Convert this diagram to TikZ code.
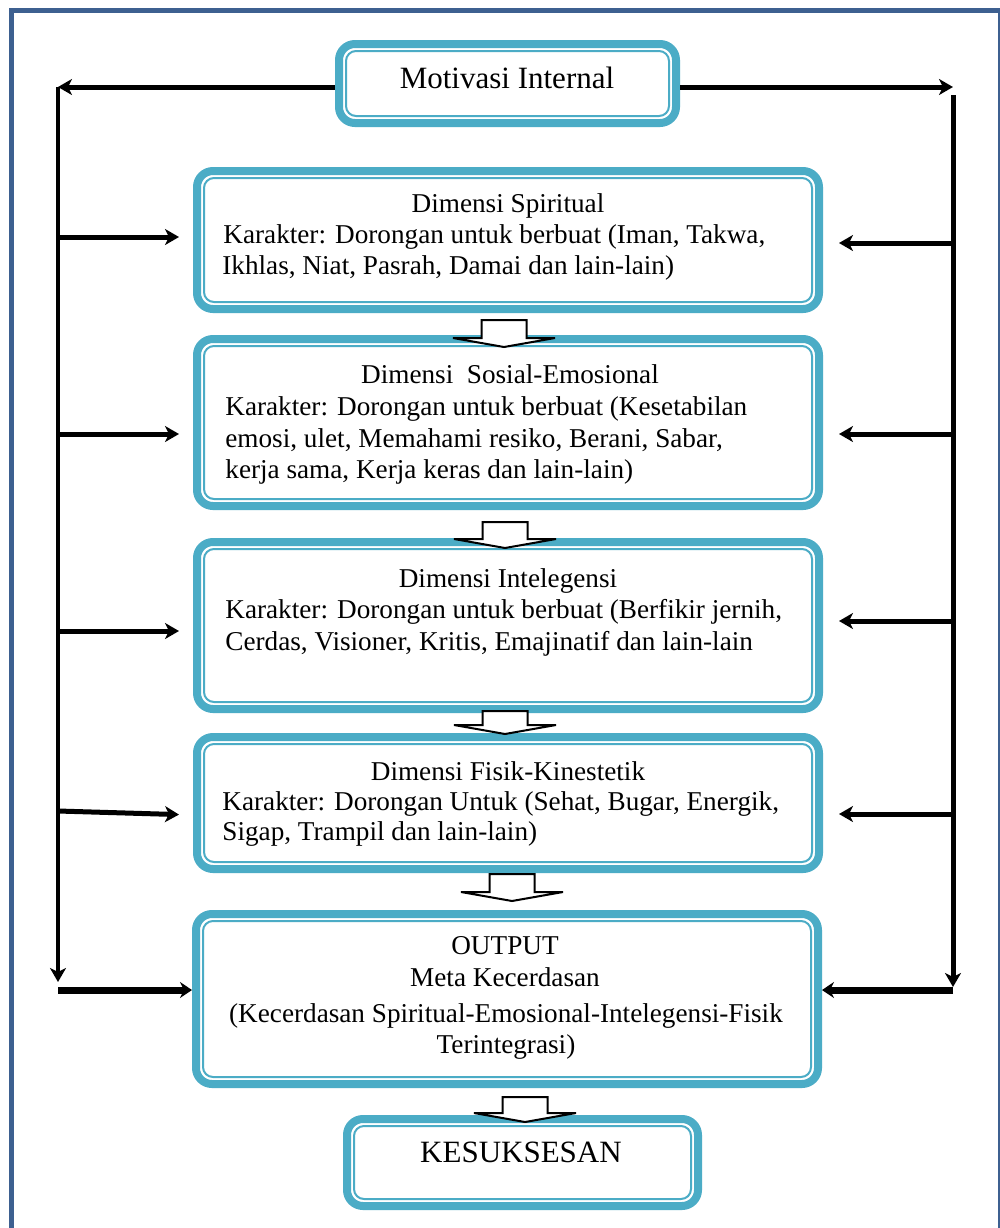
\documentclass[tikz,border=0pt]{standalone}
\usepackage{fontspec}
\setmainfont{Liberation Serif}
\usetikzlibrary{arrows.meta,calc}
\definecolor{tealb}{HTML}{4BACC6}
\definecolor{frameb}{HTML}{3D6090}
\tikzset{
  box/.style={draw=tealb, line width=4pt, rounded corners=8pt, fill=white, inner sep=0pt,
    path picture={\draw[tealb, line width=1pt, rounded corners=5pt]
      ([shift={(3.5pt,3.5pt)}]path picture bounding box.south west) rectangle
      ([shift={(-3.5pt,-3.5pt)}]path picture bounding box.north east);}},
  txt/.style={font=\fontsize{13.6}{16}\selectfont, inner sep=0pt},
  big/.style={font=\fontsize{15.5}{18}\selectfont, inner sep=0pt},
  arr/.style={line width=2.5pt, -{Stealth[length=7pt,width=8pt,inset=2pt]}},
  barr/.style={draw=black, line width=1pt, fill=white, line join=miter},
}
\newcommand\barrow[5]{%
  \path (#3,0 |- #1.south) coordinate (ta) (#3,0 |- #2.north) coordinate (tb);
  \draw[barr] ([shift={(-22.5,#4)}]ta) -- ([shift={(22.5,#4)}]ta) -- ([shift={(22.5,#5-9)}]tb)
    -- ([shift={(51,#5-9)}]tb) -- ([shift={(0,#5)}]tb) -- ([shift={(-51,#5-9)}]tb)
    -- ([shift={(-22.5,#5-9)}]tb) -- cycle;}
\begin{document}
\begin{tikzpicture}[x=0.5pt,y=-0.5pt]
\useasboundingbox (0,0) rectangle (1000,1228);
\fill[white] (0,0) rectangle (1000,1228);
% frame
\draw[frameb, line width=2.5pt] (11.5,1228) -- (11.5,10) -- (1000,10);
\draw[frameb, line width=0.8pt] (999,10) -- (999,1228);

% boxes
\node[box, minimum width=168.5pt, minimum height=39.5pt] (M) at (507.5,83.5) {};
\node[box, minimum width=311pt, minimum height=69pt] (B1) at (508,240) {};
\node[box, minimum width=311pt, minimum height=83.5pt] (B2) at (508,422.5) {};
\node[box, minimum width=311pt, minimum height=83.5pt] (B3) at (508,625.5) {};
\node[box, minimum width=311pt, minimum height=66pt] (B4) at (508,803) {};
\node[box, minimum width=311pt, minimum height=85pt] (B5) at (507,999) {};
\node[box, minimum width=175.5pt, minimum height=43.5pt] (B6) at (522.5,1162.5) {};

% texts
\node[big, anchor=base] (tM) at (507,88) {Motivasi Internal};

\node[txt, anchor=base] (t1a) at (508,212) {Dimensi Spiritual};
\node[txt, anchor=base west] (t1b) at (223,243) {Karakter: Dorongan untuk berbuat (Iman, Takwa,};
\node[txt, anchor=base west] (t1c) at (222,274) {Ikhlas, Niat, Pasrah, Damai dan lain-lain)};

\node[txt, anchor=base] (t2a) at (510,383) {Dimensi\ \ Sosial-Emosional};
\node[txt, anchor=base west] (t2b) at (225,415) {Karakter: Dorongan untuk berbuat (Kesetabilan};
\node[txt, anchor=base west] (t2c) at (225,447) {emosi, ulet, Memahami resiko, Berani, Sabar,};
\node[txt, anchor=base west] (t2d) at (225,478) {kerja sama, Kerja keras dan lain-lain)};

\node[txt, anchor=base] (t3a) at (508,587) {Dimensi Intelegensi};
\node[txt, anchor=base west] (t3b) at (225,618) {Karakter: Dorongan untuk berbuat (Berfikir jernih,};
\node[txt, anchor=base west] (t3c) at (225,650) {Cerdas, Visioner, Kritis, Emajinatif dan lain-lain};

\node[txt, anchor=base] (t4a) at (508,780) {Dimensi Fisik-Kinestetik};
\node[txt, anchor=base west] (t4b) at (222,810) {Karakter: Dorongan Untuk (Sehat, Bugar, Energik,};
\node[txt, anchor=base west] (t4c) at (222,840) {Sigap, Trampil dan lain-lain)};

\node[txt, anchor=base] (t5a) at (505,954) {OUTPUT};
\node[txt, anchor=base] (t5b) at (505,986) {Meta Kecerdasan};
\node[txt, anchor=base] (t5c) at (506,1022) {(Kecerdasan Spiritual-Emosional-Intelegensi-Fisik};
\node[txt, anchor=base] (t5d) at (506,1053) {Terintegrasi)};

\node[big, anchor=base] (t6) at (521,1162) {KESUKSESAN};

% block arrows
\barrow{B1}{B2}{504}{7}{12}
\barrow{B2}{B3}{505}{12}{10}
\barrow{B3}{B4}{505}{-2}{1}
\barrow{B4}{B5}{512}{1}{-9}
\barrow{B5}{B6}{525}{9}{7}

% connector coordinates
\coordinate (L0) at (58,87);
\coordinate (LB) at (58,982);
\coordinate (LH) at (58,990);
\coordinate (R0) at (953,87);
\coordinate (RT) at (953,95);
\coordinate (RB) at (953,987);
\coordinate (RH) at (953,990);
\coordinate (l1) at (58,237);
\coordinate (l2) at (58,434);
\coordinate (l3) at (58,631);
\coordinate (l4) at (58,811);
\coordinate (r1) at (953,243);
\coordinate (r2) at (953,434);
\coordinate (r3) at (953,621);
\coordinate (r4) at (953,814);

\draw[arr] (M.west |- L0) -- (L0);
\draw[arr] (M.east |- R0) -- (R0);
\draw[line width=2pt, -{Stealth[length=7pt,width=8pt,inset=2pt]}] (L0) -- (LB);
\draw[line width=2.5pt, -{Stealth[length=7pt,width=8pt,inset=2pt]}] (RT) -- (RB);
\draw[line width=3.5pt, -{Stealth[length=6pt,width=8pt,inset=2pt]}] (LH) -- (LH -| B5.west);
\draw[line width=3.5pt, -{Stealth[length=6pt,width=8pt,inset=2pt]}] (RH) -- (RH -| B5.east);

\draw[arr, shorten >=7pt] (l1) -- (l1 -| B1.west);
\draw[arr, shorten >=7pt] (l2) -- (l2 -| B2.west);
\draw[arr, shorten >=7pt] (l3) -- (l3 -| B3.west);
\draw[arr, shorten >=7pt] (l4) -- ([yshift=-2pt]l4 -| B4.west);
\draw[arr, shorten >=8pt] (r1) -- (r1 -| B1.east);
\draw[arr, shorten >=8pt] (r2) -- (r2 -| B2.east);
\draw[arr, shorten >=8pt] (r3) -- (r3 -| B3.east);
\draw[arr, shorten >=8pt] (r4) -- (r4 -| B4.east);
\end{tikzpicture}
\end{document}
